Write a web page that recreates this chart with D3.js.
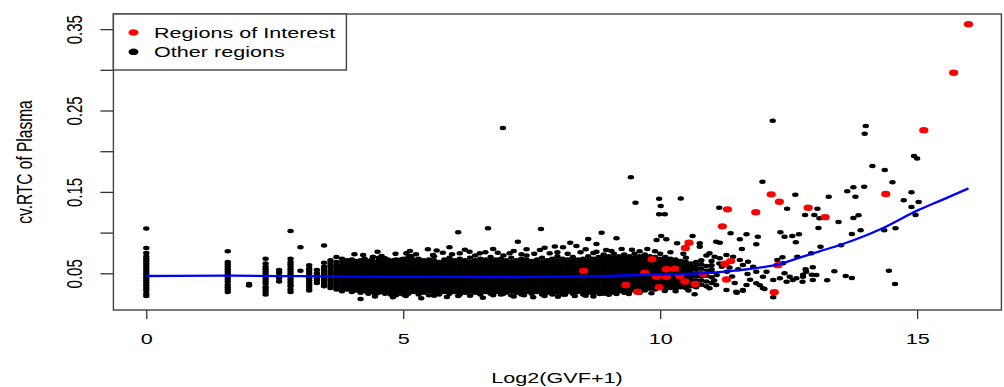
<!DOCTYPE html>
<html>
<head>
<meta charset="utf-8">
<script src="https://cdn.jsdelivr.net/npm/d3@7"></script>
<style>
  body { margin: 0; background: #fff; }
  svg { display: block; }
  text { font-family: "Liberation Sans", Arial, Helvetica, sans-serif; }
</style>
</head>
<body>
<script>
// axis ticks
const xTicks = [0, 5, 10, 15];
const yTicks = [0.05, 0.10, 0.15, 0.20, 0.25, 0.30, 0.35];
const yTickLabels = ['0.05', '', '0.15', '', '0.25', '', '0.35'];
const legendLabels = ['Regions of Interest', 'Other regions'];

// other regions, dense part: x, y values (thousandths)
const bandRows = [
  [0,     '22 25 29 32 35 38 41 44 47 50 53 56 59 62 65 68 71 75 81 105'],
  [1.585, '27 30 33 36 40 43 46 49 52 55 58 61 64 77'],
  [2.0,   '35 37'],
  [2.322, '24 27 30 33 37 40 43 46 49 52 55 58 62 68'],
  [2.585, '40 44 47 51 54'],
  [2.807, '27 30 34 37 40 43 46 49 52 55 58 61 64 68 102'],
  [3.0,   '53 82'],
  [3.17,  '29 32 35 38 41 44 47 50 53 56 60'],
  [3.32,  '38 41 44 47 50 54'],
  [3.46,  '34 37 40 43 46 49 52 55 58 63 84'],
  [3.585, '32 35 38 41 44 47 50 53 57 60 63 66'],
  [3.70,  '30 33 36 39 42 45 48 51 54 57 60 64 70'],
  [3.807, '28 32 36 40 44 48 52 56 60 64 68'],
  [3.907, '30 34 38 42 46 50 54 58 62 66'],
  [4.0,   '27 31 35 39 43 47 51 55 59 63 67'],
  [4.087, '29 33 37 41 45 49 53 57 61 65'],
  [4.17,  '26 30 34 38 42 46 50 54 58 62 66'],
  [4.248, '28 32 36 40 44 48 52 56 60 64 68'],
  [4.322, '25 29 33 37 41 45 49 53 57 61 65'],
  [4.392, '27 31 35 39 43 47 51 55 59 63 67'],
  [4.459, '24 28 32 36 40 44 48 52 56 60 64'],
  [4.524, '26 30 34 38 42 46 50 54 58 62 66 69'],
  [4.585, '28 32 36 40 44 48 52 56 60 64'],
  [4.644, '25 29 33 37 41 45 49 53 57 61 65 68'],
  [4.70,  '27 31 35 39 43 47 51 55 59 63 67'],
  [4.755, '24 28 32 36 40 44 48 52 56 60 64'],
  [4.807, '26 30 34 38 42 46 50 54 58 62 66'],
  [4.858, '23 27 31 35 39 43 47 51 55 59 63 67'],
  [4.907, '25 29 33 37 41 45 49 53 57 61 65'],
  [4.954, '27 31 35 39 43 47 51 55 59 63 67'],
  [5.0,   '24 28 32 36 40 44 48 52 56 60 64 68'],
  [5.1,   '25 29 33 37 41 45 49 53 57 61 65 70'],
  [5.2,   '27 31 35 39 43 47 51 55 59 63 67'],
  [5.3,   '24 28 32 36 40 44 48 52 56 60 64 68'],
  [5.4,   '26 30 34 38 42 46 50 54 58 62 66'],
  [5.5,   '23 28 32 36 40 44 48 52 56 60 64 67'],
  [5.6,   '26 30 34 38 42 46 50 54 58 62 66 71'],
  [5.7,   '24 28 32 36 40 44 48 52 56 60 64'],
  [5.8,   '27 31 35 39 43 47 51 55 59 63 67'],
  [5.9,   '25 29 33 37 41 45 49 53 57 61 65 69'],
  [6.0,   '27 31 35 39 43 47 51 55 59 63 66'],
  [6.1,   '24 28 32 36 40 44 48 52 56 60 64 68'],
  [6.2,   '26 30 34 38 42 46 50 54 58 62 66'],
  [6.3,   '23 28 32 36 40 44 48 52 56 60 64 69'],
  [6.4,   '26 30 34 38 42 46 50 54 58 62 66'],
  [6.5,   '24 28 32 36 40 44 48 52 56 60 64 68'],
  [6.6,   '27 31 35 39 43 47 51 55 59 63 67'],
  [6.7,   '25 29 33 37 41 45 49 53 57 61 65 70'],
  [6.8,   '27 31 35 39 43 47 51 55 59 63 67'],
  [6.9,   '24 28 32 36 40 44 48 52 56 60 64 68'],
  [7.0,   '26 30 34 38 42 46 50 54 58 62 66'],
  [7.1,   '23 28 32 36 40 44 48 52 56 60 64 69'],
  [7.2,   '26 30 34 38 42 46 50 54 58 62 66'],
  [7.3,   '24 28 32 36 40 44 48 52 56 60 64 68'],
  [7.4,   '27 31 35 39 43 47 51 55 59 63 67 72'],
  [7.5,   '25 29 33 37 41 45 49 53 57 61 65'],
  [7.6,   '27 31 35 39 43 47 51 55 59 63 67'],
  [7.7,   '24 28 32 36 40 44 48 52 56 60 64 69'],
  [7.8,   '26 30 34 38 42 46 50 54 58 62 66'],
  [7.9,   '24 28 32 36 40 44 48 52 56 60 64 68'],
  [8.0,   '26 30 34 38 42 46 50 54 58 62 66 71'],
  [8.1,   '24 28 32 36 40 44 48 52 56 60 64 68'],
  [8.2,   '27 31 35 39 43 47 51 55 59 63 67'],
  [8.3,   '25 29 33 37 41 45 49 53 57 61 65 70'],
  [8.4,   '27 31 35 39 43 47 51 55 59 63 67'],
  [8.5,   '24 28 32 36 40 44 48 52 56 60 64 68'],
  [8.6,   '26 30 34 38 42 46 50 54 58 62 66 71'],
  [8.7,   '25 28 32 36 40 44 48 52 56 60 64 68'],
  [8.8,   '27 30 34 38 42 46 50 54 58 62 66 70'],
  [8.9,   '25 29 33 37 41 45 49 53 57 61 65 69 73'],
  [9.0,   '27 31 35 39 43 47 51 55 59 63 67 71'],
  [9.1,   '26 29 33 37 41 45 49 53 57 61 65 69 74'],
  [9.2,   '28 31 35 39 43 47 51 55 59 63 67 71'],
  [9.3,   '26 30 33 37 41 45 49 53 57 61 65 69 73'],
  [9.4,   '28 32 35 39 43 47 51 55 59 63 67 71'],
  [9.5,   '29 33 37 41 45 49 53 57 61 65 69 74'],
  [9.6,   '31 35 39 43 47 51 55 59 63 67 71'],
  [9.7,   '29 33 37 41 45 49 53 57 61 65 69 73'],
  [9.8,   '31 35 39 43 47 51 55 59 63 67 71'],
  [9.9,   '30 34 38 42 46 50 54 58 62 66 70'],
  [10.0,  '32 36 40 44 48 52 56 60 64 68 74'],
  [10.1,  '30 34 38 42 46 50 54 58 62 66 70'],
  [10.2,  '32 36 40 44 48 52 56 60 64 68'],
  [10.3,  '31 35 39 43 47 51 55 59 63 67'],
  [10.4,  '33 37 41 45 49 53 57 61 65'],
  [10.5,  '32 36 40 44 48 52 56 60 64 69'],
  [10.6,  '34 38 42 46 50 54 58 62'],
  [10.7,  '33 37 41 46 50 55 59 64'],
  [10.8,  '36 41 46 51 56 61 66'],
  [10.9,  '34 40 47 53 59 72'],
  [11.0,  '38 45 52 60 65']
];

// other regions, scattered points [x, y]
const scatterPts = [
  [4.17, 0.0184], [5.35, 0.0193], [6.07, 0.0221], [7.53, 0.0205], [8.01, 0.0213], [8.34, 0.0221],
  [6.94, 0.0246], [8.82, 0.0246], [9.15, 0.0246], [9.39, 0.0246], [9.83, 0.0254], [10.09, 0.0283], [10.67, 0.0242],
  [4.45, 0.0215], [4.80, 0.0205], [5.05, 0.0220], [5.60, 0.0225], [5.85, 0.0210], [6.30, 0.0225], [6.55, 0.0200],
  [6.75, 0.0230], [7.15, 0.0215], [7.35, 0.0230], [7.75, 0.0220], [8.15, 0.0235], [8.55, 0.0225], [8.70, 0.0215],
  [9.00, 0.0235], [9.60, 0.0260], [10.30, 0.0280], [10.55, 0.0290],
  [4.22, 0.0725], [4.41, 0.0704], [4.58, 0.0713], [4.64, 0.0684], [5.06, 0.0746], [5.13, 0.0774], [5.16, 0.0713],
  [5.48, 0.0795], [5.58, 0.0725], [5.77, 0.0753], [6.10, 0.0746], [6.29, 0.0765], [6.49, 0.0746], [6.84, 0.0753],
  [7.07, 0.0746], [7.40, 0.0795], [7.66, 0.0786], [7.85, 0.0746], [8.11, 0.0820], [8.37, 0.0835], [8.76, 0.0765], [8.95, 0.0786],
  [4.05, 0.0735], [4.50, 0.0765], [4.85, 0.0740], [5.25, 0.0735], [5.65, 0.0780], [5.95, 0.0735], [6.20, 0.0790],
  [6.40, 0.0720], [6.60, 0.0760], [6.95, 0.0720], [7.15, 0.0775], [7.30, 0.0735], [7.55, 0.0740], [7.75, 0.0815],
  [8.00, 0.0760], [8.20, 0.0740], [8.45, 0.0760], [8.55, 0.0795], [8.70, 0.0750], [9.05, 0.0775], [9.25, 0.0800],
  [9.45, 0.0790], [9.60, 0.0770], [9.75, 0.0800], [9.90, 0.0770], [10.20, 0.0760], [10.45, 0.0740], [5.90, 0.0820],
  [6.75, 0.0800], [7.95, 0.0830],
  [6.07, 0.1004], [6.65, 0.1053], [7.23, 0.0888], [7.68, 0.1044], [8.25, 0.0876], [8.60, 0.0921], [8.76, 0.0860],
  [8.86, 0.0999], [9.15, 0.0930], [9.93, 0.0910], [10.02, 0.0958], [10.12, 0.0918], [10.33, 0.0869], [10.63, 0.0958],
  [10.77, 0.0869], [10.77, 0.0827], [11.09, 0.0888], [11.16, 0.0876], [11.37, 0.0991], [11.55, 0.0918], [11.59, 0.0799],
  [11.68, 0.0979], [11.87, 0.0856], [11.90, 0.0950], [12.34, 0.1004], [12.42, 0.0950], [12.57, 0.0958], [12.64, 0.0880], [12.70, 0.0979],
  [6.94, 0.2285], [9.43, 0.1680], [9.52, 0.1367], [9.98, 0.1417], [10.01, 0.1327], [9.98, 0.1225], [10.09, 0.1225],
  [10.40, 0.1420], [11.15, 0.1306], [11.99, 0.1625], [12.19, 0.2375], [12.47, 0.1294], [12.63, 0.1466], [12.82, 0.1216],
  [13.00, 0.1216], [13.06, 0.1294], [13.10, 0.1176], [13.08, 0.1056], [13.28, 0.1440], [13.47, 0.1130], [13.64, 0.1507],
  [13.76, 0.1557], [13.97, 0.1564], [13.80, 0.1440], [13.76, 0.1179], [13.86, 0.1213], [13.90, 0.1028], [13.73, 0.0983],
  [14.00, 0.2310], [13.98, 0.2215], [14.13, 0.1818], [14.37, 0.1770], [14.52, 0.1620], [14.89, 0.1495], [14.94, 0.1940],
  [15.00, 0.1910], [14.74, 0.1397], [15.03, 0.1376], [14.89, 0.1315], [14.97, 0.1216], [14.36, 0.1028], [14.58, 0.1053],
  [13.52, 0.0844], [13.12, 0.0827], [12.94, 0.0746], [12.67, 0.0704],
  [10.96, 0.0746], [11.06, 0.0704], [11.16, 0.0684], [11.29, 0.0725], [11.42, 0.0704], [11.55, 0.0663], [11.61, 0.0602],
  [11.71, 0.0643], [11.81, 0.0581], [11.87, 0.0520], [12.00, 0.0458], [12.07, 0.0520], [12.20, 0.0418], [12.33, 0.0439],
  [12.42, 0.0500], [12.52, 0.0458], [12.65, 0.0439], [12.78, 0.0458], [12.84, 0.0520], [12.97, 0.0418], [13.04, 0.0479],
  [10.96, 0.0316], [11.09, 0.0356], [11.29, 0.0295], [11.48, 0.0274], [11.61, 0.0295], [11.68, 0.0356], [11.87, 0.0377],
  [12.00, 0.0316], [12.20, 0.0205], [12.46, 0.0397], [12.58, 0.0418], [11.49, 0.0262], [11.61, 0.0286], [11.94, 0.0353],
  [12.03, 0.0307], [12.28, 0.0663], [12.38, 0.0697], [12.39, 0.0623], [12.97, 0.0574], [12.83, 0.0549], [12.95, 0.0483],
  [12.78, 0.0483], [12.77, 0.0397], [13.39, 0.0525], [13.25, 0.0414], [13.61, 0.0467], [13.73, 0.0442], [14.45, 0.0532], [14.57, 0.0369],
  [11.00, 0.0550], [11.10, 0.0480], [11.20, 0.0580], [11.05, 0.0410], [11.15, 0.0620], [11.30, 0.0520], [11.40, 0.0460],
  [11.35, 0.0570], [11.45, 0.0380], [11.52, 0.0550], [11.70, 0.0490], [11.75, 0.0420]
];

// regions of interest [x, y]
const roiPts = [
  [16.00, 0.3560], [15.71, 0.2965], [15.13, 0.2257], [14.39, 0.1474], [12.16, 0.1470], [12.32, 0.1380],
  [11.31, 0.1286], [11.86, 0.1250], [12.88, 0.1306], [13.21, 0.1190], [11.21, 0.1077], [10.56, 0.0876],
  [10.49, 0.0810], [9.84, 0.0673], [11.26, 0.0618], [11.37, 0.0650], [12.29, 0.0600], [10.12, 0.0549],
  [10.28, 0.0557], [9.93, 0.0458], [10.12, 0.0458], [10.38, 0.0467], [10.84, 0.0490], [10.48, 0.0400],
  [10.68, 0.0369], [11.29, 0.0424], [9.98, 0.0328], [12.22, 0.0267], [9.70, 0.0507], [9.33, 0.0356],
  [9.56, 0.0274], [8.51, 0.0528]
];

// loess fit
const loessX = [0, 1.57, 3, 4.5, 6, 7, 8, 8.8, 9.8, 10.8, 11.5, 12.0, 12.3, 12.7, 13.1, 13.5, 14.0, 14.35, 15.0, 15.5, 16.0];
const loessY = [0.0467, 0.0471, 0.0464, 0.0457, 0.0455, 0.0454, 0.0458, 0.0466, 0.0482, 0.0499, 0.0535, 0.0575,
  0.0610, 0.0690, 0.0770, 0.0848, 0.0965, 0.1060, 0.1270, 0.1405, 0.1544];

const width = 1004, height = 387;
const sx = 1.44; // the picture is stretched sideways

const svg = d3.select('body').append('svg')
  .attr('width', width)
  .attr('height', height);

const x = d3.scaleLinear().domain([-0.64, 16.64]).range([113.4, 1001.4]);
const y = d3.scaleLinear().domain([0.0049, 0.3686]).range([310, 14]);

const others = bandRows
  .flatMap(([cx, ys]) => ys.split(' ').map(v => [cx, +v / 1000]))
  .concat(scatterPts);

svg.append('g')
  .selectAll('ellipse')
  .data(others)
  .enter().append('ellipse')
  .attr('cx', d => x(d[0]))
  .attr('cy', d => y(d[1]))
  .attr('rx', 3.2)
  .attr('ry', 2.25)
  .attr('fill', '#000');

svg.append('g')
  .selectAll('ellipse')
  .data(roiPts)
  .enter().append('ellipse')
  .attr('cx', d => x(d[0]))
  .attr('cy', d => y(d[1]))
  .attr('rx', 4.6)
  .attr('ry', 3.2)
  .attr('fill', '#ff0000');

const line = d3.line()
  .x((d, i) => x(loessX[i]))
  .y(d => y(d))
  .curve(d3.curveMonotoneX);

svg.append('path')
  .datum(loessY)
  .attr('d', line)
  .attr('fill', 'none')
  .attr('stroke', '#0000ff')
  .attr('stroke-width', 2.3);

// box
svg.append('rect')
  .attr('x', 113.4).attr('y', 14)
  .attr('width', 1001.4 - 113.4).attr('height', 296)
  .attr('fill', 'none')
  .attr('stroke', '#444')
  .attr('stroke-width', 1.4);

// bottom axis
const gx = svg.append('g')
  .attr('transform', 'translate(0,310)')
  .call(d3.axisBottom(x).tickValues(xTicks).tickSize(9).tickSizeOuter(0));
gx.select('.domain').remove();
gx.selectAll('line').attr('stroke', '#333').attr('stroke-width', 1.3);
gx.selectAll('text')
  .attr('y', null).attr('dy', null)
  .attr('transform', `translate(0,34) scale(${sx},1)`)
  .attr('font-size', 15)
  .attr('font-family', '"Liberation Sans", Arial, sans-serif')
  .attr('fill', '#000');

// left axis
const gy = svg.append('g')
  .attr('transform', 'translate(113.4,0)')
  .call(d3.axisLeft(y).tickValues(yTicks).tickFormat((d, i) => yTickLabels[i]).tickSize(13).tickSizeOuter(0));
gy.select('.domain').remove();
gy.selectAll('line').attr('stroke', '#333').attr('stroke-width', 1.3);
gy.selectAll('text')
  .attr('x', null).attr('dy', null)
  .attr('transform', `translate(-31.5,0) scale(${sx},1) rotate(-90)`)
  .attr('text-anchor', 'middle')
  .attr('font-size', 15)
  .attr('font-family', '"Liberation Sans", Arial, sans-serif')
  .attr('fill', '#000');

// axis titles
svg.append('text')
  .attr('transform', `translate(557,382.5) scale(${sx},1)`)
  .attr('text-anchor', 'middle')
  .attr('font-size', 15)
  .text('Log2(GVF+1)');

svg.append('text')
  .attr('transform', `translate(32,162) scale(${sx},1) rotate(-90)`)
  .attr('text-anchor', 'middle')
  .attr('font-size', 15.5)
  .text('cv.RTC of Plasma');

// legend
const legend = svg.append('g');
legend.append('rect')
  .attr('x', 113.4).attr('y', 14)
  .attr('width', 233).attr('height', 56)
  .attr('fill', '#fff')
  .attr('stroke', '#444')
  .attr('stroke-width', 1.4);

const item = legend.selectAll('g.item')
  .data(legendLabels)
  .enter().append('g')
  .attr('class', 'item')
  .attr('transform', (d, i) => `translate(0,${32.5 + i * 19.3})`);

item.append('ellipse')
  .attr('cx', 133.5).attr('cy', 0)
  .attr('rx', 5).attr('ry', 3.3)
  .attr('fill', (d, i) => i === 0 ? '#ff0000' : '#000');

item.append('text')
  .attr('transform', `translate(154,5.5) scale(${sx},1)`)
  .attr('font-size', 15)
  .text(d => d);
</script>
</body>
</html>
